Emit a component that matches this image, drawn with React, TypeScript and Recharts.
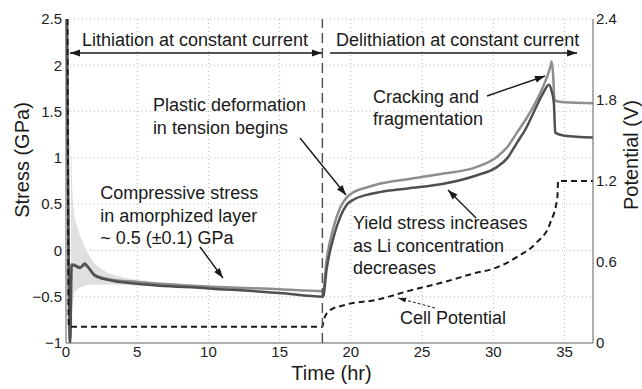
import React from 'react';
import { ComposedChart, Line, Area, XAxis, YAxis, CartesianGrid, ReferenceLine, ReferenceDot } from 'recharts';

// axis ticks
const timeTicks = [0, 5, 10, 15, 20, 25, 30, 35];
const stressTicks = [-1, -0.5, 0, 0.5, 1, 1.5, 2, 2.5];
const potentialTicks = [0, 0.6, 1.2, 1.8, 2.4];

// stress, lighter trace (hr / GPa)
const lightTime = [0.1, 0.25, 0.35, 0.5, 1.0, 1.3, 1.6, 2, 3, 5, 10, 15, 18.05, 18.3, 18.8, 19.25, 19.7, 20.2, 21.1, 22, 24, 26.5, 28.8, 30.25, 31, 31.65, 32.3, 32.8, 33.5, 34.0, 34.1, 34.2, 34.3, 35, 37];
const lightStress = [2.5, -1, -0.15, -0.15, -0.18, -0.16, -0.19, -0.26, -0.31, -0.34, -0.39, -0.42, -0.44, -0.1, 0.26, 0.46, 0.57, 0.63, 0.68, 0.72, 0.77, 0.83, 0.9, 1.01, 1.12, 1.27, 1.42, 1.55, 1.77, 1.98, 2.04, 1.9, 1.62, 1.6, 1.59];

// stress, darker trace
const darkTime = [0.05, 0.3, 0.4, 0.5, 1.0, 1.3, 1.6, 2, 3, 5, 10, 15, 18.05, 18.3, 18.8, 19.25, 19.7, 20.2, 21.1, 22, 24, 26.5, 28.8, 30.25, 31, 31.65, 32.3, 32.8, 33.5, 33.9, 34.1, 34.25, 34.35, 35, 37];
const darkStress = [2.5, -1, -0.16, -0.16, -0.19, -0.14, -0.19, -0.27, -0.32, -0.36, -0.41, -0.46, -0.5, -0.2, 0.15, 0.36, 0.49, 0.55, 0.6, 0.63, 0.67, 0.72, 0.81, 0.9, 1.0, 1.16, 1.32, 1.48, 1.7, 1.79, 1.72, 1.6, 1.27, 1.24, 1.22];

// raw noisy signal envelope during early lithiation
const noiseTime = [0.35, 0.45, 0.6, 0.8, 1.0, 1.5, 2, 2.5, 3, 4, 5, 7, 9];
const noiseLow = [-0.75, -0.6, -0.45, -0.42, -0.4, -0.37, -0.37, -0.37, -0.37, -0.37, -0.38, -0.39, -0.4];
const noiseHigh = [1.2, 0.6, 0.35, 0.25, 0.15, -0.02, -0.14, -0.2, -0.25, -0.29, -0.32, -0.35, -0.38];

// cell potential (V)
const potTime = [0.1, 0.2, 18.0, 18.1, 18.5, 19.5, 21.8, 24.2, 26.5, 28.8, 30, 31.7, 33, 34, 34.5, 34.55, 37];
const potential = [2.4, 0.12, 0.12, 0.17, 0.24, 0.28, 0.32, 0.39, 0.45, 0.52, 0.55, 0.64, 0.74, 0.89, 1.08, 1.2, 1.2];

const lightData = lightTime.map((t, i) => ({ t, s: lightStress[i] }));
const darkData = darkTime.map((t, i) => ({ t, s: darkStress[i] }));
const noiseData = noiseTime.map((t, i) => ({ t, band: [noiseLow[i], noiseHigh[i]] }));
const potData = potTime.map((t, i) => ({ t, v: potential[i] }));

// annotations in data coords (time, stress)
const notes = [
  { x: 9.06, y: 2.27, anchor: 'middle', lines: ['Lithiation at constant current'] },
  { x: 27.5, y: 2.27, anchor: 'middle', lines: ['Delithiation at constant current'] },
  { x: 6.1, y: 1.57, anchor: 'start', lines: ['Plastic deformation', 'in tension begins'] },
  { x: 2.4, y: 0.62, anchor: 'start', lines: ['Compressive stress', 'in amorphized layer', '~ 0.5 (\u00b10.1) GPa'] },
  { x: 21.55, y: 1.66, anchor: 'start', lines: ['Cracking and', 'fragmentation'] },
  { x: 20.15, y: 0.296, anchor: 'start', lines: ['Yield stress increases', 'as Li concentration', 'decreases'] },
  { x: 23.45, y: -0.73, anchor: 'start', lines: ['Cell Potential'] },
];

const arrows = [
  { from: { x: 0.28, y: 2.133 }, to: { x: 17.97, y: 2.133 }, both: true, dashed: false },
  { from: { x: 18.54, y: 2.133 }, to: { x: 35.88, y: 2.133 }, both: false, dashed: false },
  { from: { x: 16.43, y: 1.214 }, to: { x: 19.66, y: 0.599 }, both: false, dashed: false },
  { from: { x: 9.41, y: 0.037 }, to: { x: 11.02, y: -0.298 }, both: false, dashed: false },
  { from: { x: 29.56, y: 1.668 }, to: { x: 33.63, y: 1.884 }, both: false, dashed: false },
  { from: { x: 28.79, y: 0.35 }, to: { x: 26.82, y: 0.653 }, both: false, dashed: false },
  { from: { x: 25.91, y: -0.622 }, to: { x: 23.31, y: -0.514 }, both: false, dashed: true },
];

const ink = '#1a1a1a';
const fmt = (v: number) => String(v).replace('-', '\u2212');

const head = (tx: number, ty: number, fx: number, fy: number, len: number, w: number) => {
  const a = Math.atan2(ty - fy, tx - fx);
  const bx = tx - len * Math.cos(a);
  const by = ty - len * Math.sin(a);
  const px = (w / 2) * Math.sin(a);
  const py = (w / 2) * Math.cos(a);
  return `${tx},${ty} ${bx + px},${by - py} ${bx - px},${by + py}`;
};

const arrowShape = (both: boolean, dashed: boolean) => (p: any) => {
  const { x1, y1, x2, y2 } = p;
  const len = dashed ? 8 : 10;
  const w = dashed ? 5 : 7;
  return (
    <g>
      <line x1={x1} y1={y1} x2={x2} y2={y2} stroke={ink} strokeWidth={dashed ? 1 : 1.4} strokeDasharray={dashed ? '3 2' : undefined} />
      <polygon points={head(x2, y2, x1, y1, len, w)} fill={ink} />
      {both && <polygon points={head(x1, y1, x2, y2, len, w)} fill={ink} />}
    </g>
  );
};

const noteShape = (lines: string[], anchor: string) => (p: any) => (
  <text x={p.cx} y={p.cy} fontSize={18} fill={ink} textAnchor={anchor as any} dominantBaseline="central">
    {lines.map((l, i) => (
      <tspan key={i} x={p.cx} dy={i === 0 ? 0 : 22.5}>{l}</tspan>
    ))}
  </text>
);

const tickStyle = { fill: '#222', fontSize: 15 };

const App: React.FC = () => {
  return (
    <div style={{ position: 'absolute', left: 0, top: 0, width: 642, height: 389, background: '#fff', fontFamily: '"Liberation Sans", Arial, Helvetica, sans-serif' }}>
      <ComposedChart width={642} height={389} margin={{ top: 19, right: 9, bottom: 16, left: 26 }}>
        <CartesianGrid yAxisId="s" stroke="#bdbdbd" strokeDasharray="1 3" />
        <XAxis
          type="number"
          dataKey="t"
          domain={[0, 37]}
          ticks={timeTicks}
          height={30}
          stroke="#666"
          tickLine={false}
          tickSize={0}
          tickMargin={3}
          tick={tickStyle}
          label={(p: any) => {
            const vb = p.viewBox;
            return (
              <text x={vb.x + vb.width / 2 + 2} y={373} fontSize={20} fill={ink} textAnchor="middle" dominantBaseline="central">Time (hr)</text>
            );
          }}
        />
        <YAxis
          yAxisId="s"
          type="number"
          domain={[-1, 2.5]}
          ticks={stressTicks}
          width={40}
          stroke="#666"
          tickLine={false}
          tickSize={0}
          tickMargin={4}
          tick={tickStyle}
          tickFormatter={fmt}
          allowDataOverflow
          label={() => (
            <text x={22} y={160} fontSize={20} fill={ink} textAnchor="middle" dominantBaseline="central" transform="rotate(-90 22 160)">Stress (GPa)</text>
          )}
        />
        <YAxis
          yAxisId="v"
          orientation="right"
          type="number"
          domain={[0, 2.4]}
          ticks={potentialTicks}
          width={40}
          stroke="#666"
          tickLine={false}
          tickSize={0}
          tickMargin={3}
          tick={tickStyle}
          allowDataOverflow
          label={() => (
            <text x={631} y={155} fontSize={20} fill={ink} textAnchor="middle" dominantBaseline="central" transform="rotate(-90 631 155)">Potential (V)</text>
          )}
        />
        <Area yAxisId="s" data={noiseData} dataKey="band" type="linear" stroke="none" fill="#e0e0e0" fillOpacity={1} isAnimationActive={false} />
        <Line yAxisId="s" data={lightData} dataKey="s" type="monotone" stroke="#8e8e8e" strokeWidth={2.5} dot={false} isAnimationActive={false} />
        <Line yAxisId="s" data={darkData} dataKey="s" type="monotone" stroke="#4f4f4f" strokeWidth={2.5} dot={false} isAnimationActive={false} />
        <Line yAxisId="v" data={potData} dataKey="v" type="monotone" stroke={ink} strokeWidth={2} strokeDasharray="6 4" dot={false} isAnimationActive={false} />
        <ReferenceLine yAxisId="s" x={18} stroke="#555" strokeWidth={1.5} strokeDasharray="10 5" />
        {arrows.map((a, i) => (
          <ReferenceLine key={`a${i}`} yAxisId="s" segment={[a.from, a.to]} shape={arrowShape(a.both, a.dashed)} />
        ))}
        {notes.map((n, i) => (
          <ReferenceDot key={`n${i}`} yAxisId="s" x={n.x} y={n.y} r={0} shape={noteShape(n.lines, n.anchor)} />
        ))}
      </ComposedChart>
    </div>
  );
};

export default App;
